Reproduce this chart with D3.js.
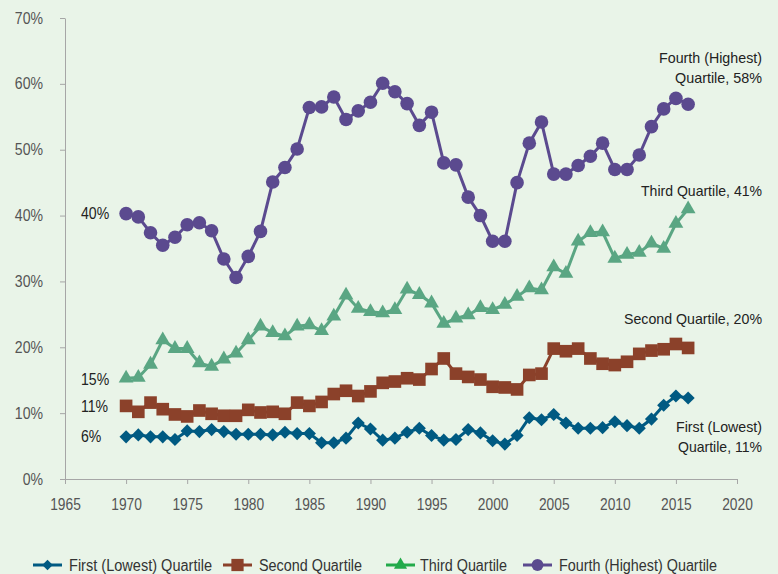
<!DOCTYPE html>
<html>
<head>
<meta charset="utf-8">
<script src="https://cdn.jsdelivr.net/npm/d3@7"></script>
<style>
  body { margin: 0; background: #e9f4e8; }
  svg { display: block; font-family: "Liberation Sans", Arial, sans-serif; }
</style>
</head>
<body>
<svg id="chart" width="778" height="574"></svg>
<script>
// years 1970..2016
const years = d3.range(1970, 2017)

const first = [6.4,6.7,6.4,6.4,6.0,7.3,7.2,7.5,7.2,6.8, 6.8,6.8,6.7,7.1,6.9,6.9,5.5,5.5,6.2,8.5,
  7.6,5.9,6.2,7.1,7.7,6.6,5.9,6.0,7.5,7.0, 5.8,5.3,6.6,9.3,9.0,9.8,8.5,7.7,7.7,7.8, 8.7,8.1,7.7,9.1,11.2,12.6,12.3]
const second = [11.1,10.2,11.6,10.6,9.8,9.5,10.4,9.9,9.6,9.6, 10.5,10.1,10.2,9.9,11.6,11.1,11.7,12.9,13.4,12.6,
  13.3,14.6,14.8,15.3,15.1,16.7,18.3,16.0,15.5,15.1, 14.0,13.9,13.6,15.8,16.0,19.8,19.4,19.8,18.3,17.5, 17.3,17.8,19.0,19.5,19.7,20.5,19.9]
const third = [15.3,15.4,17.4,21.1,19.8,19.8,17.6,17.1,18.2,19.1, 21.1,23.2,22.2,21.7,23.2,23.4,22.5,24.7,27.9,25.9,
  25.4,25.2,25.7,28.8,28.0,26.7,23.6,24.4,24.9,26.0, 25.7,26.5,27.7,29.0,28.7,32.2,31.2,36.1,37.4,37.5, 33.5,34.1,34.4,35.8,35.0,38.8,41.0]
const fourth = [40.3,39.8,37.4,35.5,36.7,38.6,38.9,37.7,33.4,30.6, 33.8,37.6,45.1,47.3,50.1,56.4,56.5,58.0,54.6,55.9,
  57.2,60.1,58.8,57.0,53.7,55.7,48.0,47.7,42.8,40.0, 36.1,36.1,45.0,51.0,54.2,46.3,46.3,47.6,49.0,51.0, 47.0,47.0,49.2,53.5,56.2,57.8,56.9]

const seriesNames = ["First (Lowest) Quartile", "Second Quartile", "Third Quartile", "Fourth (Highest) Quartile"]
const xTicks = d3.range(1965, 2021, 5)
const yTicks = d3.range(0, 71, 10)

const svg = d3.select("#chart")
const x = d3.scaleLinear().domain([1965, 2020]).range([65, 737])
const y = d3.scaleLinear().domain([0, 70]).range([479, 18])

// squeeze text to look like the narrow font of the original
function narrow(sel, k) {
  sel.each(function() {
    const w = this.getComputedTextLength()
    d3.select(this).attr("textLength", w * k).attr("lengthAdjust", "spacingAndGlyphs")
  })
}

// axes
const xAxis = svg.append("g").attr("transform", `translate(0,${y(0)})`)
  .call(d3.axisBottom(x).tickValues(xTicks).tickFormat(d3.format("d")).tickSize(5).tickSizeOuter(0))
const yAxis = svg.append("g").attr("transform", `translate(${x(1965)},0)`)
  .call(d3.axisLeft(y).tickValues(yTicks).tickFormat(d => d + "%").tickSize(5).tickSizeOuter(0))
svg.selectAll(".domain, .tick line").attr("stroke", "#a6a6a6")
xAxis.selectAll("text").attr("fill", "#555").attr("font-size", 16).attr("dy", "1.45em").call(narrow, 0.86)
yAxis.selectAll("text").attr("fill", "#555").attr("font-size", 16).attr("x", -22).call(narrow, 0.88)

const series = [
  {name: seriesNames[0], vals: first, color: "#005a82", legend: "#005a82", shape: d3.symbolDiamond2, size: 110, lsize: 70},
  {name: seriesNames[1], vals: second, color: "#8b412a", legend: "#8b412a", shape: d3.symbolSquare, size: 160, lsize: 150},
  {name: seriesNames[2], vals: third, color: "#5aa683", legend: "#22aa4a", shape: d3.symbolTriangle, size: 95, lsize: 75},
  {name: seriesNames[3], vals: fourth, color: "#5b4a8f", legend: "#5b4a8f", shape: d3.symbolCircle, size: 145, lsize: 110}
]

const line = d3.line().x(d => x(d[0])).y(d => y(d[1]))

series.forEach(s => {
  const pts = years.map((yr, i) => [yr, s.vals[i]])
  const g = svg.append("g")
  g.append("path").datum(pts).attr("d", line)
    .attr("fill", "none").attr("stroke", s.color).attr("stroke-width", 3)
  g.selectAll("path.m").data(pts).enter().append("path").attr("class", "m")
    .attr("d", d3.symbol().type(s.shape).size(s.size))
    .attr("transform", d => `translate(${x(d[0])},${y(d[1])})`)
    .attr("fill", s.color)
})

// annotations [text, baseline, width in original], right-aligned at 762
const ann = svg.append("g").attr("font-size", 15).attr("fill", "#222")
const right = [
  ["Fourth (Highest)", 63, 103], ["Quartile, 58%", 83, 87],
  ["Third Quartile, 41%", 196, 121],
  ["Second Quartile, 20%", 324, 138],
  ["First (Lowest)", 432, 86], ["Quartile, 11%", 452, 84]
]
right.forEach(r => ann.append("text").attr("x", 762 - r[2]).attr("y", r[1])
  .attr("textLength", r[2]).attr("lengthAdjust", "spacingAndGlyphs").text(r[0]))
const leftVals = [fourth[0], third[0], second[0], first[0]]
const leftY = [219, 385, 412, 442]
leftVals.forEach((v, i) => ann.append("text").attr("x", 81).attr("y", leftY[i]).attr("font-size", 16)
  .text(Math.round(v) + "%").call(narrow, 0.88))

// legend
const legLine = [33, 223, 386, 523]
const legText = [69, 259, 420, 559]
const legW = [143, 103, 87, 158]
const lg = svg.append("g")
series.forEach((s, i) => {
  const g = lg.append("g").attr("transform", `translate(${legLine[i]},565)`)
  g.append("line").attr("x1", 0).attr("x2", 29).attr("stroke", s.legend).attr("stroke-width", 3)
  g.append("path").attr("d", d3.symbol().type(s.shape).size(s.lsize)).attr("transform", "translate(14.5,0)")
    .attr("fill", s.legend)
  g.append("text").attr("x", legText[i] - legLine[i]).attr("y", 5.5).attr("font-size", 16).attr("fill", "#333")
    .attr("textLength", legW[i]).attr("lengthAdjust", "spacingAndGlyphs").text(s.name)
})
</script>
</body>
</html>
